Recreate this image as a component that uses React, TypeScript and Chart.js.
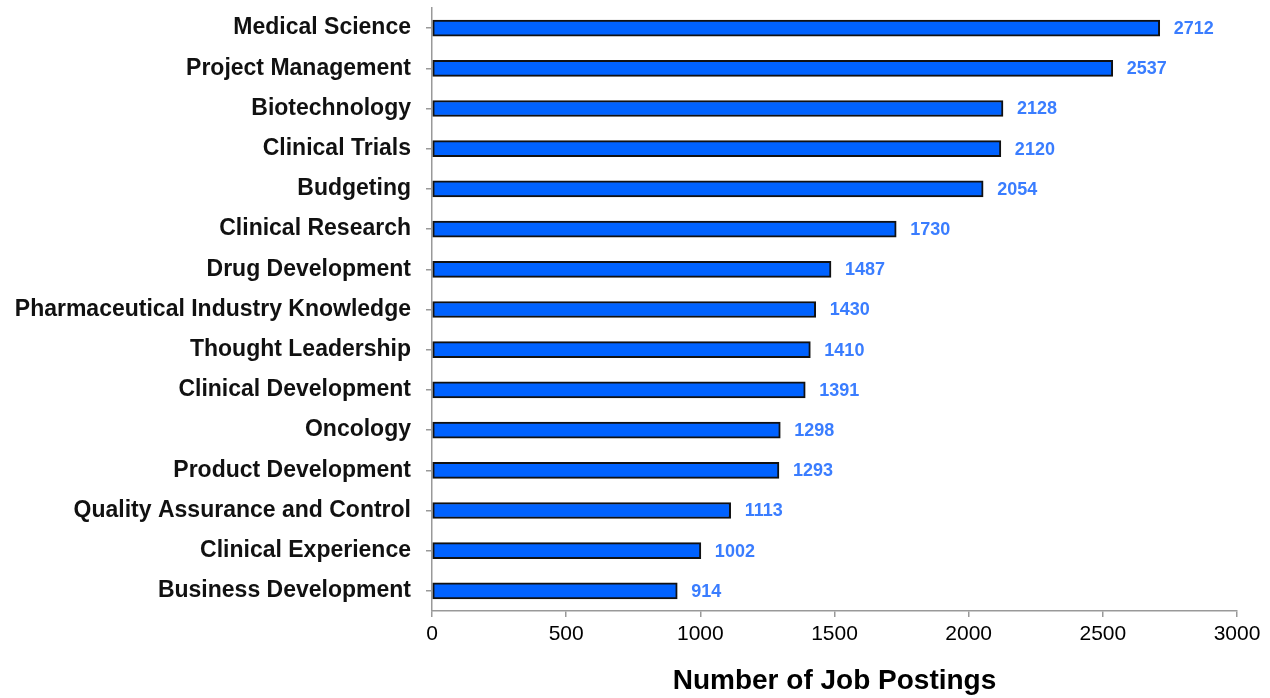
import React, { useEffect, useRef } from "react";
import { Chart, registerables } from "chart.js";
Chart.register(...registerables);

const categories = [
  "Medical Science",
  "Project Management",
  "Biotechnology",
  "Clinical Trials",
  "Budgeting",
  "Clinical Research",
  "Drug Development",
  "Pharmaceutical Industry Knowledge",
  "Thought Leadership",
  "Clinical Development",
  "Oncology",
  "Product Development",
  "Quality Assurance and Control",
  "Clinical Experience",
  "Business Development",
];
const values = [2712, 2537, 2128, 2120, 2054, 1730, 1487, 1430, 1410, 1391, 1298, 1293, 1113, 1002, 914];
const xTicks = [0, 500, 1000, 1500, 2000, 2500, 3000];
const axisTitle = "Number of Job Postings";

const FONT = "'Liberation Sans', Arial, sans-serif";

const valueLabels = {
  id: "valueLabels",
  afterDatasetsDraw(chart: any) {
    const ctx = chart.ctx;
    const meta = chart.getDatasetMeta(0);
    ctx.save();
    ctx.font = `bold 18px ${FONT}`;
    ctx.fillStyle = "#3a7dff";
    ctx.textAlign = "left";
    ctx.textBaseline = "middle";
    meta.data.forEach((bar: any, i: number) => {
      ctx.fillText(String(values[i]), bar.x + 14, bar.y + 1);
    });
    ctx.restore();
  },
};

export default function App() {
  const ref = useRef<HTMLCanvasElement>(null);
  useEffect(() => {
    const chart = new Chart(ref.current!, {
      type: "bar",
      data: {
        labels: categories,
        datasets: [
          {
            data: values,
            backgroundColor: "#0062ff",
            borderColor: "#111111",
            borderWidth: 2,
            borderSkipped: false,
            barThickness: 16,
          },
        ],
      },
      options: {
        indexAxis: "y",
        animation: false,
        responsive: false,
        layout: { padding: { top: 8, right: 33, left: 0, bottom: 0 } },
        plugins: { legend: { display: false }, tooltip: { enabled: false } },
        scales: {
          x: {
            min: 0,
            max: 3000,
            afterBuildTicks: (scale: any) => {
              scale.ticks = xTicks.map((v) => ({ value: v }));
            },
            afterFit: (scale: any) => {
              scale.height = 87;
            },
            grid: { drawOnChartArea: false, drawTicks: true, tickLength: 6, color: "#999999", lineWidth: 1.5 },
            border: { display: true, color: "#999999", width: 1.5 },
            ticks: {
              color: "#000",
              font: { family: FONT, size: 21 },
              padding: 5,
              maxRotation: 0,
              callback: (v: any) => String(v),
            },
            title: {
              display: true,
              text: axisTitle,
              color: "#000",
              font: { family: FONT, size: 28, weight: "bold" },
              padding: { top: 8, bottom: 0 },
            },
          },
          y: {
            afterFit: (scale: any) => {
              scale.width = 432;
              scale.paddingTop = 0;
              scale.paddingBottom = 0;
            },
            grid: { drawOnChartArea: false, drawTicks: true, tickLength: 6, color: "#999999", lineWidth: 1.5, offset: false },
            border: { display: true, color: "#999999", width: 1.5 },
            ticks: { color: "#111", font: { family: FONT, size: 23, weight: "bold" }, padding: 15, autoSkip: false },
          },
        },
      },
      plugins: [valueLabels],
    });
    return () => chart.destroy();
  }, []);
  return (
    <div style={{ position: "fixed", left: 0, top: 0, width: 1270, height: 698, background: "#fff" }}>
      <canvas ref={ref} width={1270} height={698} style={{ width: 1270, height: 698 }} />
    </div>
  );
}
